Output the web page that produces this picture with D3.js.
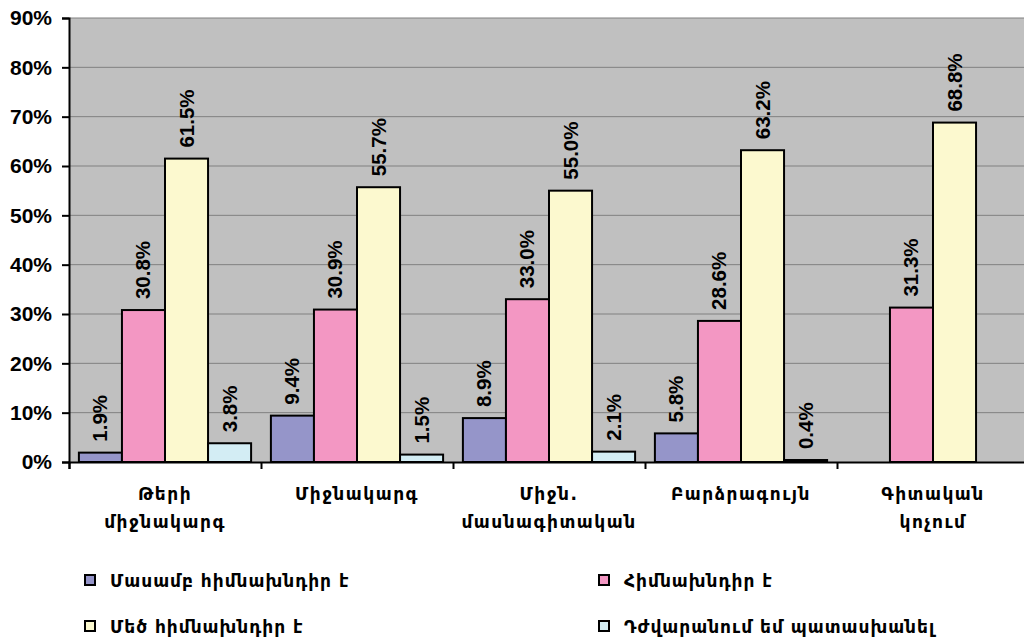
<!DOCTYPE html>
<html><head><meta charset="utf-8">
<script src="https://cdn.jsdelivr.net/npm/d3@7"></script>
<style>
body{margin:0;background:#fff;}
svg{display:block;}
</style></head>
<body>
<svg id="c" width="1024" height="641"></svg>
<script>
const categories = [["Թերի","միջնակարգ"],["Միջնակարգ"],["Միջն.","մասնագիտական"],["Բարձրագույն"],["Գիտական","կոչում"]];
const seriesNames = ["Մասամբ հիմնախնդիր է","Հիմնախնդիր է","Մեծ հիմնախնդիր է","Դժվարանում եմ պատասխանել"];
const partly = [1.9, 9.4, 8.9, 5.8, null];
const problem = [30.8, 30.9, 33.0, 28.6, 31.3];
const bigProblem = [61.5, 55.7, 55.0, 63.2, 68.8];
const hardToAnswer = [3.8, 1.5, 2.1, 0.4, null];
const yTicks = [0,10,20,30,40,50,60,70,80,90];
const colors = ["#9595c9","#f397c3","#fcf9cf","#d3edf4"];
const series = [partly, problem, bigProblem, hardToAnswer];

const svg = d3.select("#c");
const L=69, R=1029, T=18, B=462;
const x0 = d3.scaleBand().domain(d3.range(categories.length)).range([L,R]).paddingInner(0).paddingOuter(0);
const x1 = d3.scaleBand().domain(d3.range(series.length)).range([0,x0.bandwidth()]).paddingOuter(0.23).paddingInner(0);
const y = d3.scaleLinear().domain([0,90]).range([B,T]);

svg.append("rect").attr("x",L).attr("y",T).attr("width",R-L).attr("height",B-T).attr("fill","#c0c0c0");
svg.append("g").selectAll("line").data(yTicks.slice(1)).join("line")
  .attr("x1",L).attr("x2",R).attr("y1",d=>y(d)).attr("y2",d=>y(d))
  .attr("stroke","#808080").attr("stroke-width",1);

const ya = svg.append("g").attr("transform",`translate(${L},0)`)
  .call(d3.axisLeft(y).tickValues(yTicks).tickFormat(d=>d+"%").tickSize(7).tickPadding(10));
ya.select(".domain").attr("stroke","#000").attr("stroke-width",2);
ya.selectAll(".tick line").attr("stroke","#000").attr("stroke-width",2);
ya.selectAll("text").attr("font-family","Liberation Sans, Arial, sans-serif").attr("font-weight","bold").attr("font-size",21).attr("fill","#000");

const xa = svg.append("g").attr("transform",`translate(0,${B})`)
  .call(d3.axisBottom(d3.scaleLinear().domain([0,5]).range([L,R])).tickValues([0,1,2,3,4,5]).tickFormat("").tickSize(7));
xa.select(".domain").attr("stroke","#000").attr("stroke-width",2);
xa.selectAll(".tick line").attr("stroke","#000").attr("stroke-width",2);

const g = svg.append("g");
series.forEach((vals,si)=>{
  vals.forEach((v,ci)=>{
    if(v==null) return;
    const bx = x0(ci)+x1(si), bw = x1.bandwidth();
    g.append("rect").attr("x",bx).attr("y",y(v)).attr("width",bw).attr("height",B-y(v))
      .attr("fill",colors[si]).attr("stroke","#000").attr("stroke-width",2);
    g.append("text").attr("transform",`translate(${bx+bw/2+7},${y(v)-11}) rotate(-90)`)
      .attr("font-family","Liberation Sans, Arial, sans-serif").attr("font-weight","bold").attr("font-size",20.5)
      .text(v.toFixed(1)+"%");
  });
});

categories.forEach((lines,ci)=>{
  lines.forEach((t,li)=>{
    svg.append("text").attr("x",x0(ci)+x0.bandwidth()/2).attr("y",500+li*28)
      .attr("text-anchor","middle").attr("font-family","DejaVu Sans, sans-serif").attr("font-weight","bold").attr("font-size",17).attr("letter-spacing",1.5)
      .text(t);
  });
});

const legPos = [[85,580],[599,580],[85,626],[599,626]];
seriesNames.forEach((n,i)=>{
  const [lx,ly] = legPos[i];
  svg.append("rect").attr("x",lx).attr("y",ly-5).attr("width",10).attr("height",10).attr("fill",colors[i]).attr("stroke","#000").attr("stroke-width",2);
  svg.append("text").attr("x",lx+25).attr("y",ly+7).attr("font-family","DejaVu Sans, sans-serif").attr("font-weight","bold").attr("font-size",17).attr("letter-spacing",1).text(n);
});
</script>
</body></html>
